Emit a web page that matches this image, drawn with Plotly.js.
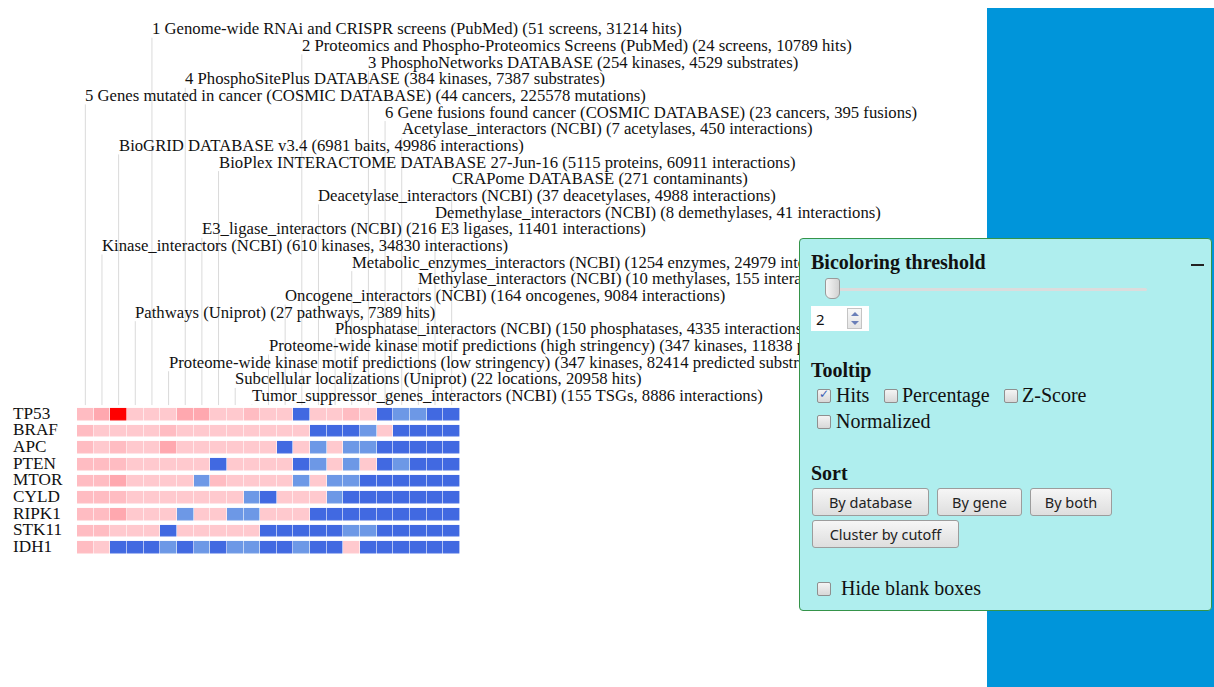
<!DOCTYPE html>
<html>
<head>
<meta charset="utf-8">
<script src="https://cdn.plot.ly/plotly-3.0.1.min.js"></script>
<style>
  html, body { margin: 0; padding: 0; background: #fff; width: 1214px; height: 687px; overflow: hidden; }
  #chart { position: absolute; left: 0; top: 0; width: 1214px; height: 687px; }
  #bluebar { position: absolute; left: 987px; top: 8px; width: 227px; height: 679px; background: #0095da; }
  #panel { position: absolute; left: 799px; top: 238px; width: 411px; height: 371px; background: #afeeee;
           border: 1.5px solid #35944a; border-radius: 4px; font-family: "Liberation Serif", "Times New Roman", serif; color: #111; }
  .abs { position: absolute; white-space: nowrap; }
  .head { font-weight: bold; font-size: 20px; }
  .lbl { font-size: 20px; }
  .cb { position: absolute; width: 14px; height: 14px; border: 1px solid #8f8f8f; border-radius: 2px;
        background: linear-gradient(#f4f4f4, #d8d8d8); box-sizing: border-box; }
  .cb.on::after { content: "\2713"; position: absolute; left: 1px; top: -3px; font-size: 12px; color: #3a5fb5; font-family: "DejaVu Sans", sans-serif; }
  .btn { position: absolute; height: 28px; border: 1px solid #9c9c9c; border-radius: 3px;
         background: linear-gradient(#f6f6f6, #dedede); font-family: "Noto Sans", "DejaVu Sans", sans-serif;
         font-size: 14.5px; color: #222; text-align: center; line-height: 27px; box-sizing: border-box; }
</style>
</head>
<body>
<div id="chart"></div>
<div id="bluebar"></div>
<div id="panel">
  <div class="abs head" style="left:11px; top:12px;">Bicoloring threshold</div>
  <div class="abs" style="left:391px; top:25px; width:13px; height:2px; background:#222;"></div>
  <div class="abs" style="left:26px; top:49px; width:321px; height:3px; background:#dcdcdc; border-radius:2px;"></div>
  <div class="abs" style="left:25px; top:39px; width:13px; height:19px; border:1px solid #9a9a9a; border-radius:3px 3px 6px 6px; background:linear-gradient(90deg,#f6f6f6,#d2d2d2);"></div>
  <div class="abs" style="left:11px; top:67px; width:58px; height:25px; background:#fff;"></div>
  <div class="abs" style="left:16px; top:70px; font-family:'Noto Sans','DejaVu Sans',sans-serif; font-size:15px;">2</div>
  <div class="abs" style="left:47px; top:69px; width:15px; height:21px; border:1px solid #c4c4c4; background:linear-gradient(#f8f8f8,#e4e4e4); box-sizing:border-box;">
    <div style="position:absolute; left:3px; top:3px; width:0; height:0; border-left:4px solid transparent; border-right:4px solid transparent; border-bottom:4px solid #6a7fb8;"></div>
    <div style="position:absolute; left:3px; top:12px; width:0; height:0; border-left:4px solid transparent; border-right:4px solid transparent; border-top:4px solid #6a7fb8;"></div>
  </div>
  <div class="abs head" style="left:11px; top:120px;">Tooltip</div>
  <div class="cb on" style="left:17px; top:150px;"></div>
  <div class="abs lbl" style="left:36px; top:145px;">Hits</div>
  <div class="cb" style="left:84px; top:150px;"></div>
  <div class="abs lbl" style="left:102px; top:145px;">Percentage</div>
  <div class="cb" style="left:204px; top:150px;"></div>
  <div class="abs lbl" style="left:222px; top:145px;">Z-Score</div>
  <div class="cb" style="left:17px; top:176px;"></div>
  <div class="abs lbl" style="left:36px; top:171px;">Normalized</div>
  <div class="abs head" style="left:11px; top:223px;">Sort</div>
  <div class="btn" style="left:12px; top:249px; width:117px;">By database</div>
  <div class="btn" style="left:137px; top:249px; width:85px;">By gene</div>
  <div class="btn" style="left:230px; top:249px; width:82px;">By both</div>
  <div class="btn" style="left:12px; top:281px; width:147px;">Cluster by cutoff</div>
  <div class="cb" style="left:17px; top:343px;"></div>
  <div class="abs lbl" style="left:41px; top:338px;">Hide blank boxes</div>
</div>
<script>
// Database labels in listing order (top to bottom)
const databases = [
  "1 Genome-wide RNAi and CRISPR screens (PubMed) (51 screens, 31214 hits)",
  "2 Proteomics and Phospho-Proteomics Screens (PubMed) (24 screens, 10789 hits)",
  "3 PhosphoNetworks DATABASE (254 kinases, 4529 substrates)",
  "4 PhosphoSitePlus DATABASE (384 kinases, 7387 substrates)",
  "5 Genes mutated in cancer (COSMIC DATABASE) (44 cancers, 225578 mutations)",
  "6 Gene fusions found cancer (COSMIC DATABASE) (23 cancers, 395 fusions)",
  "Acetylase_interactors (NCBI) (7 acetylases, 450 interactions)",
  "BioGRID DATABASE v3.4 (6981 baits, 49986 interactions)",
  "BioPlex INTERACTOME DATABASE 27-Jun-16 (5115 proteins, 60911 interactions)",
  "CRAPome DATABASE (271 contaminants)",
  "Deacetylase_interactors (NCBI) (37 deacetylases, 4988 interactions)",
  "Demethylase_interactors (NCBI) (8 demethylases, 41 interactions)",
  "E3_ligase_interactors (NCBI) (216 E3 ligases, 11401 interactions)",
  "Kinase_interactors (NCBI) (610 kinases, 34830 interactions)",
  "Metabolic_enzymes_interactors (NCBI) (1254 enzymes, 24979 interactions)",
  "Methylase_interactors (NCBI) (10 methylases, 155 interactions)",
  "Oncogene_interactors (NCBI) (164 oncogenes, 9084 interactions)",
  "Pathways (Uniprot) (27 pathways, 7389 hits)",
  "Phosphatase_interactors (NCBI) (150 phosphatases, 4335 interactions)",
  "Proteome-wide kinase motif predictions (high stringency) (347 kinases, 11838 predicted substrates)",
  "Proteome-wide kinase motif predictions (low stringency) (347 kinases, 82414 predicted substrates)",
  "Subcellular localizations (Uniprot) (22 locations, 20958 hits)",
  "Tumor_suppressor_genes_interactors (NCBI) (155 TSGs, 8886 interactions)"
];
// Heatmap column (left to right) -> index into databases
const columnOrder = [4, 13, 7, 17, 0, 20, 3, 12, 8, 21, 22, 19, 16, 1, 10, 18, 14, 2, 5, 6, 15, 11, 9];
const genes = ["TP53", "BRAF", "APC", "PTEN", "MTOR", "CYLD", "RIPK1", "STK11", "IDH1"];
// Bicolored score per gene (rows) and column: negatives blue, positives pink/red
const scores = [
  [2, 3, 6, 1, 1, 1, 3, 3, 1, 1, 2, 1, 1, -2, 1, 1, 2, 1, -2, -1, -1, -2, -2],
  [2, 1, 1, 1, 1, 2, 1, 1, 1, 1, 1, 1, 1, 1, -2, -2, -2, -1, 1, -2, -2, -2, -2],
  [2, 1, 2, 1, 1, 3, 1, 1, 1, 1, 1, 1, -2, 1, -1, 1, -1, -1, -2, -2, -2, -2, -2],
  [2, 2, 2, 1, 1, 1, 1, 1, -2, 1, 1, 1, 1, -2, -1, 1, -1, 1, -2, -1, -2, -2, -2],
  [2, 2, 3, 1, 1, 1, 1, -1, 2, 1, 1, 1, 1, -1, 1, -1, -1, -2, -2, -2, -2, -2, -2],
  [2, 2, 2, 1, 1, 1, 1, 1, 1, 1, -1, -2, 1, 1, 1, -1, -2, -2, -2, -2, -2, -2, -2],
  [2, 2, 3, 1, 1, 1, -1, 1, 1, -1, -1, 1, 1, 1, -2, -2, -2, -2, -2, -2, -2, -2, -2],
  [2, 2, 1, 1, 1, -2, 1, 1, 1, 1, 1, -2, -2, -2, -2, -2, -1, -1, -2, -2, -2, -2, -2],
  [2, 1, -2, -2, -2, -1, -2, -1, -2, -1, -1, -2, -2, -1, -2, -2, 1, -2, -2, -2, -2, -2, -2]
];

const SERIF = "Liberation Serif, Times New Roman, serif";
const nCols = columnOrder.length;
const nDb = databases.length;
const colIdx = columnOrder.map((_, i) => i);
const rowIdx = genes.map((_, i) => i);

const colorscale = [
  [0, "#4169e1"], [0.0625, "#4169e1"],
  [0.0625, "#6d98e6"], [0.25, "#6d98e6"],
  [0.25, "#ffc9ce"], [0.4375, "#ffc9ce"],
  [0.4375, "#ffbcc2"], [0.5625, "#ffbcc2"],
  [0.5625, "#ffa8af"], [0.8, "#ffa8af"],
  [0.8, "#ff0000"], [1, "#ff0000"]
];

const trace = {
  type: "heatmap",
  x: colIdx, y: rowIdx, z: scores,
  zmin: -2, zmax: 6,
  colorscale: colorscale, showscale: false,
  xgap: 0.6, ygap: 4.5,
  hoverinfo: "skip"
};

const annotations = [];
const shapes = [];
columnOrder.forEach((dbi, col) => {
  const yLab = dbi - nDb;
  annotations.push({
    x: col, y: yLab, xref: "x", yref: "y",
    xanchor: "left", yanchor: "middle", xshift: -2, yshift: 2,
    text: databases[dbi], showarrow: false,
    font: {family: SERIF, size: 16.7, color: "#111"}
  });
  shapes.push({
    type: "line", xref: "x", yref: "y",
    x0: col, x1: col, y0: yLab + 0.42, y1: -0.55,
    line: {color: "#dadada", width: 1}, layer: "below"
  });
});
genes.forEach((g, r) => {
  annotations.push({
    x: (11 - 77.3) / 382.7, y: r, xref: "paper", yref: "y",
    xanchor: "left", yanchor: "middle", yshift: 1,
    text: g, showarrow: false,
    font: {family: SERIF, size: 17.2, color: "#111"}
  });
});

const layout = {
  width: 1214, height: 687,
  margin: {l: 77.3, r: 754, t: 13.5, b: 131.4, pad: 0},
  paper_bgcolor: "#ffffff", plot_bgcolor: "#ffffff",
  xaxis: {range: [-0.5, nCols - 0.5], showgrid: false, zeroline: false, showticklabels: false, ticks: "", showline: false},
  yaxis: {range: [genes.length - 0.5, -nDb - 1], showgrid: false, zeroline: false, showticklabels: false, ticks: "", showline: false},
  annotations: annotations,
  shapes: shapes,
  showlegend: false
};

Plotly.newPlot("chart", [trace], layout, {displayModeBar: false, staticPlot: true});
</script>
</body>
</html>
